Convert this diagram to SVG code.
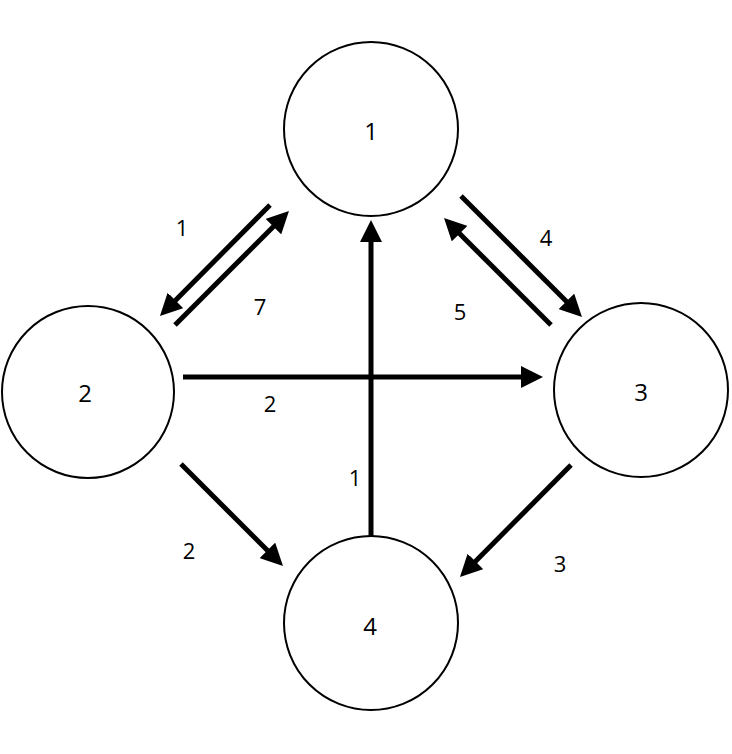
<svg xmlns="http://www.w3.org/2000/svg" width="732" height="754" viewBox="0 0 732 754">
<style>
.node circle{fill:#fff;stroke:#000;stroke-width:2}
.node text{font-family:"Open Sans","Liberation Sans",sans-serif;font-size:24px;fill:#000;text-anchor:middle;dominant-baseline:central}
#edges line{stroke:#000;stroke-width:5;marker-end:url(#arr)}
.lbl{font-family:"Open Sans","Liberation Sans",sans-serif;font-size:22px;fill:#000;text-anchor:middle;dominant-baseline:central}
</style>
<defs>
<marker id="arr" viewBox="0 0 22 22" markerWidth="22" markerHeight="22" markerUnits="userSpaceOnUse" refX="10" refY="11" orient="auto">
<path d="M0,0 L22,11 L0,22 z" fill="#000"/>
</marker>
</defs>
<rect width="732" height="754" fill="#fff"/>
<g id="edges">
<line x1="270" y1="205" x2="168.4" y2="307.5"/>
<line x1="175" y1="325" x2="280.5" y2="219.5"/>
<line x1="461" y1="196" x2="573.5" y2="308.5"/>
<line x1="551" y1="325" x2="452.5" y2="226.5"/>
<line x1="183" y1="377" x2="531" y2="377"/>
<line x1="371" y1="537" x2="371" y2="232"/>
<line x1="181" y1="464" x2="274.5" y2="557.5"/>
<line x1="571" y1="465" x2="468.4" y2="568.5"/>
</g>
<g id="edge-labels">
<text class="lbl" x="182" y="227">1</text>
<text class="lbl" x="260" y="306">7</text>
<text class="lbl" x="546" y="237">4</text>
<text class="lbl" x="460" y="311">5</text>
<text class="lbl" x="270" y="403">2</text>
<text class="lbl" x="355" y="477">1</text>
<text class="lbl" x="189" y="550">2</text>
<text class="lbl" x="560" y="563">3</text>
</g>
<g id="node1" class="node"><circle cx="371" cy="129" r="87"/><text x="371" y="130">1</text></g>
<g id="node2" class="node"><circle cx="88" cy="392" r="86"/><text x="85" y="392">2</text></g>
<g id="node3" class="node"><circle cx="641" cy="390" r="87"/><text x="641" y="391">3</text></g>
<g id="node4" class="node"><circle cx="371" cy="623" r="87"/><text x="370" y="625">4</text></g>
</svg>
